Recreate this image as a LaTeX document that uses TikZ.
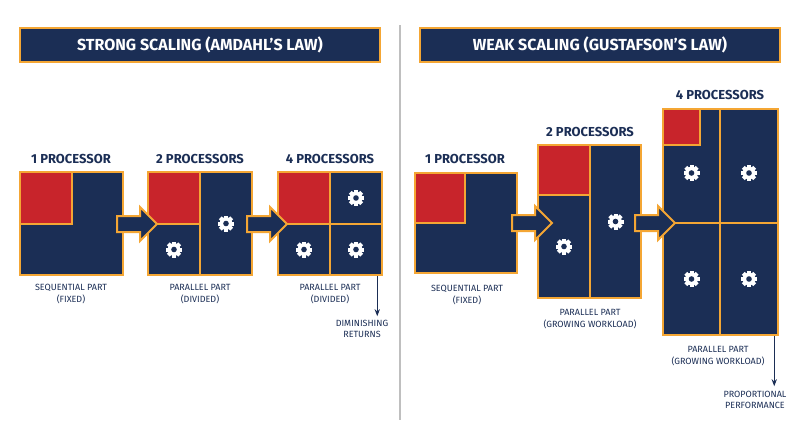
\documentclass[tikz,border=0pt]{standalone}
\usepackage{fontspec}
\setmainfont{Fira Sans}
\usetikzlibrary{arrows.meta, positioning, shapes.arrows, calc}
\definecolor{navy}{HTML}{1B2E55}
\definecolor{orng}{HTML}{F4A634}
\definecolor{redp}{HTML}{C8242B}
\definecolor{txt}{HTML}{1B2E55}

\begin{document}
\begin{tikzpicture}[
  x=1pt, y=-1pt,
  banner/.style={rectangle, fill=navy, draw=orng, line width=2pt, minimum width=360pt, minimum height=34pt, text=white, font=\bfseries\fontsize{16}{18}\selectfont},
  cell/.style={rectangle, fill=navy, draw=orng, line width=2.5pt, inner sep=0pt},
  seq/.style={cell, fill=redp},
  head/.style={font=\bfseries\fontsize{13}{15}\selectfont, text=txt},
  lab/.style={font=\fontsize{9}{11.5}\selectfont, text=txt, align=center},
  blockarrow/.style={single arrow, fill=navy, draw=orng, line width=2pt, inner sep=7pt, single arrow head extend=9pt, minimum height=40pt},
  gear/.pic={
    \foreach \a in {0,45,...,315}
      \fill[white, rotate=\a] (-2,-8) rectangle (2,0);
    \fill[white] (0,0) circle (6.3);
    \fill[navy] (0,0) circle (2.8);
  },
  >={Stealth[length=2.5mm]}
]
\useasboundingbox (0,0) rectangle (800,447);
\fill[white] (0,0) rectangle (800,447);
\draw[gray!50, line width=1.2pt] (400,25) -- (400,420);

% strong scaling
\node[banner] (tS) at (200,45) {STRONG SCALING (AMDAHL’S LAW)};

\node[head] (hS1) at (71,159) {1 PROCESSOR};
\node[cell, minimum width=103pt, minimum height=103pt] (S1) at (71.5,223.5) {};
\node[seq, minimum width=52pt, minimum height=52pt, anchor=north west] (S1r) at (S1.north west) {};

\node[head] (hS2) at (200,159) {2 PROCESSORS};
\node[cell, minimum width=52pt, minimum height=52pt] (S2a) at (174,198) {};
\node[cell, minimum width=52pt, minimum height=51pt] (S2b) at (174,249.5) {};
\node[cell, minimum width=52pt, minimum height=103pt] (S2c) at (226,223.5) {};
\node[seq, minimum width=52pt, minimum height=52pt] at (S2a) {};
\pic at (S2b) {gear};
\pic at (S2c) {gear};

\node[head] (hS4) at (330,159) {4 PROCESSORS};
\node[seq, minimum width=52pt, minimum height=52pt] (S4a) at (304,198) {};
\node[cell, minimum width=52pt, minimum height=52pt] (S4b) at (356,198) {};
\node[cell, minimum width=52pt, minimum height=51pt] (S4c) at (304,249.5) {};
\node[cell, minimum width=52pt, minimum height=51pt] (S4d) at (356,249.5) {};
\pic at (S4b) {gear};
\pic at (S4c) {gear};
\pic at (S4d) {gear};

\node[blockarrow] (aS1) at (133,224) {};
\node[blockarrow] (aS2) at (263,224) {};

\node[lab] at (71,294) {SEQUENTIAL PART\\(FIXED)};
\node[lab] at (200,294) {PARALLEL PART\\(DIVIDED)};
\node[lab] at (330,294) {PARALLEL PART\\(DIVIDED)};

\coordinate (dS) at ($(S4d.south east)+(-6,0)$);
\node[lab] (rS) at (362,329) {DIMINISHING\\RETURNS};
\draw[->, navy, line width=1pt] (dS) -- ($(dS)+(0,40)$);

% weak scaling
\node[banner] (tW) at (600,45) {WEAK SCALING (GUSTAFSON’S LAW)};

\node[head] (hW1) at (465,159) {1 PROCESSOR};
\node[cell, minimum width=102pt, minimum height=100pt] (W1) at (466,223) {};
\node[seq, minimum width=50pt, minimum height=50pt, anchor=north west] (W1r) at (W1.north west) {};

\node[head] (hW2) at (590,132) {2 PROCESSORS};
\node[seq, minimum width=52pt, minimum height=50pt] (W2a) at (564,170) {};
\node[cell, minimum width=52pt, minimum height=103pt] (W2b) at (564,246.5) {};
\node[cell, minimum width=51pt, minimum height=153pt] (W2c) at (615.5,221.5) {};
\pic at (W2b) {gear};
\pic at (W2c) {gear};

\node[head] (hW4) at (720,95) {4 PROCESSORS};
\node[cell, minimum width=57pt, minimum height=114pt] (W4a) at (691.5,166) {};
\node[cell, minimum width=58pt, minimum height=114pt] (W4b) at (749,166) {};
\node[cell, minimum width=57pt, minimum height=112pt] (W4c) at (691.5,279) {};
\node[cell, minimum width=58pt, minimum height=112pt] (W4d) at (749,279) {};
\node[seq, minimum width=37pt, minimum height=36pt, anchor=north west] (W4r) at (W4a.north west) {};
\pic at ($(W4a)+(0,7)$) {gear};
\pic at ($(W4b)+(0,7)$) {gear};
\pic at (W4c) {gear};
\pic at (W4d) {gear};

\node[blockarrow] (aW1) at (528,223) {};
\node[blockarrow] (aW2) at (651,223) {};

\node[lab] at (467,295) {SEQUENTIAL PART\\(FIXED)};
\node[lab] at (590,319) {PARALLEL PART\\(GROWING WORKLOAD)};
\node[lab] at (718,356) {PARALLEL PART\\(GROWING WORKLOAD)};

\coordinate (dW) at ($(W4d.south east)+(-5,0)$);
\node[lab] (rW) at (755,400) {PROPORTIONAL\\PERFORMANCE};
\draw[->, navy, line width=1pt] (dW) -- ($(dW)+(0,50)$);
\end{tikzpicture}
\end{document}
